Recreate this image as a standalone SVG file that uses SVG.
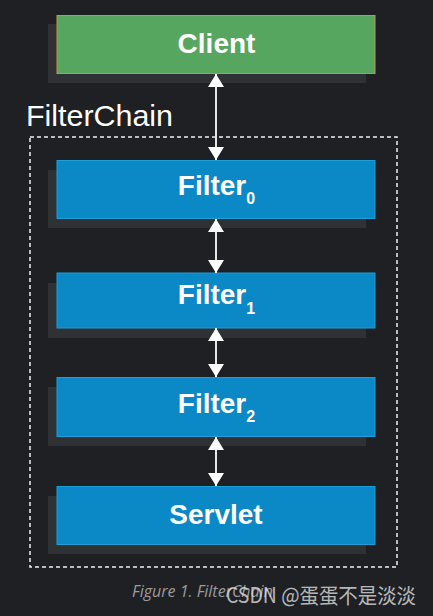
<svg xmlns="http://www.w3.org/2000/svg" width="433" height="616" viewBox="0 0 433 616">
  <defs>
    <style>
      .shadow { fill: #303134; }
      .blue { fill: #0b88c6; stroke: #1a9fd8; stroke-width: 1; }
      .green { fill: #56a65f; stroke: #c4934f; stroke-width: 1; }
      .label { font-family: "Liberation Sans", Arial, sans-serif; font-weight: bold; font-size: 28px; fill: #ffffff; text-anchor: middle; }
      .sub { font-size: 16px; }
      .conn { stroke: #e6e6e6; stroke-width: 2; fill: none; marker-start: url(#arrow); marker-end: url(#arrow); }
    </style>
    <marker id="arrow" markerUnits="userSpaceOnUse" markerWidth="14" markerHeight="16" viewBox="0 0 14 16" refX="13" refY="8" orient="auto-start-reverse">
      <path d="M0,0 L13,8 L0,16 Z" fill="#ffffff"/>
    </marker>
  </defs>
  <rect width="433" height="616" fill="#1e2024"/>

  <g id="filterchain">
    <rect x="30" y="137" width="367" height="430" fill="none" stroke="#f0f0f0" stroke-width="1.5" stroke-dasharray="4 3"/>
    <text x="26" y="126" font-family="'Liberation Sans', Arial, sans-serif" font-size="29" fill="#ffffff" textLength="147" lengthAdjust="spacingAndGlyphs">FilterChain</text>
  </g>

  <g id="client">
    <rect class="shadow" x="48" y="24" width="318" height="59"/>
    <rect class="green" x="57" y="15.5" width="318" height="58"/>
    <text class="label" x="216.5" y="53">Client</text>
  </g>

  <g id="filter0">
    <rect class="shadow" x="48" y="170" width="318" height="58"/>
    <rect class="blue" x="57" y="160.5" width="318" height="58"/>
    <text class="label" x="216.5" y="195">Filter<tspan class="sub" dy="9">0</tspan></text>
  </g>

  <g id="filter1">
    <rect class="shadow" x="48" y="283" width="318" height="55"/>
    <rect class="blue" x="57" y="273" width="318" height="55"/>
    <text class="label" x="216.5" y="304">Filter<tspan class="sub" dy="10">1</tspan></text>
  </g>

  <g id="filter2">
    <rect class="shadow" x="48" y="387" width="318" height="59"/>
    <rect class="blue" x="57" y="377.5" width="318" height="59"/>
    <text class="label" x="216.5" y="413">Filter<tspan class="sub" dy="9">2</tspan></text>
  </g>

  <g id="servlet">
    <rect class="shadow" x="48" y="496" width="318" height="58"/>
    <rect class="blue" x="57" y="486.5" width="318" height="58"/>
    <text class="label" x="216" y="524">Servlet</text>
  </g>

  <g id="connectors">
    <line class="conn" x1="216" y1="74" x2="216" y2="160"/>
    <line class="conn" x1="216" y1="219" x2="216" y2="273"/>
    <line class="conn" x1="216" y1="328" x2="216" y2="377"/>
    <line class="conn" x1="216" y1="437" x2="216" y2="486"/>
  </g>

  <g id="caption">
    <text x="132" y="597" font-family="'Open Sans', 'Noto Sans', sans-serif" font-style="italic" font-size="16" fill="#9c9c9c">Figure 1. FilterChain</text>
    <text x="226" y="603" font-family="'Noto Sans CJK SC', 'Noto Sans', sans-serif" font-size="21" fill="#e0e0e0" fill-opacity="0.8" textLength="190" lengthAdjust="spacingAndGlyphs">CSDN @蛋蛋不是淡淡</text>
  </g>
</svg>
